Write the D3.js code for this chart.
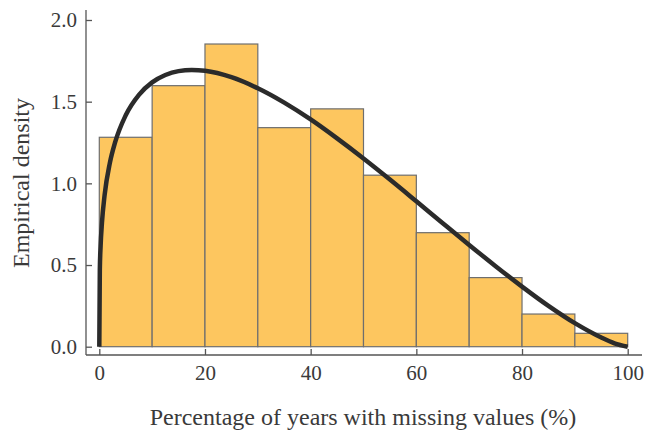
<!DOCTYPE html>
<html>
<head>
<meta charset="utf-8">
<script src="https://cdn.jsdelivr.net/npm/d3@7"></script>
<style>
  html, body { margin: 0; padding: 0; background: #ffffff; }
  svg { display: block; font-family: "Liberation Serif", "Times New Roman", serif; }
</style>
</head>
<body>
<svg id="chart" width="645" height="431"></svg>
<script>
// Histogram bins (percentage of years with missing values) and their densities
const binStarts = [0, 10, 20, 30, 40, 50, 60, 70, 80, 90];
const binWidth = 10;
const densities = [1.282, 1.598, 1.853, 1.341, 1.456, 1.050, 0.698, 0.423, 0.200, 0.082];

// Fitted density curve, sampled along the x axis
const curveX = [0, 0.1, 0.25, 0.5, 1, 2, 3, 5, 7.5, 10, 12.5, 15, 17.5, 20, 25, 30, 35, 40, 45,
                50, 55, 60, 65, 70, 75, 80, 85, 90, 95, 97.5, 100];
const curveY = [0, 0.470, 0.618, 0.758, 0.927, 1.125, 1.252, 1.417, 1.542, 1.618, 1.663, 1.687,
                1.694, 1.689, 1.650, 1.582, 1.494, 1.391, 1.275, 1.152, 1.023, 0.890, 0.756,
                0.623, 0.493, 0.368, 0.250, 0.144, 0.056, 0.021, 0];

// Axis ticks
const xTicks = [0, 20, 40, 60, 80, 100];
const yTicks = [0, 0.5, 1.0, 1.5, 2.0];

const xTitle = "Percentage of years with missing values (%)";
const yTitle = "Empirical density";

const svg = d3.select("#chart");

const x = d3.scaleLinear().domain([0, 100]).range([99.3, 627.7]);
const y = d3.scaleLinear().domain([0, 2]).range([346.7, 20]);

const axisLeftX = 86;
const axisBottomY = 355;
const axisColor = "#555555";
const textColor = "#3a3a3a";

// Bars
svg.append("g")
  .selectAll("rect")
  .data(binStarts)
  .join("rect")
    .attr("x", (d) => x(d))
    .attr("y", (d, i) => y(densities[i]))
    .attr("width", (d) => x(d + binWidth) - x(d))
    .attr("height", (d, i) => y(0) - y(densities[i]))
    .attr("fill", "#fdc65f")
    .attr("stroke", "#6e6e6e")
    .attr("stroke-width", 1.2);

// Density curve
const line = d3.line()
  .x((d) => x(d))
  .y((d, i) => y(curveY[i]))
  .curve(d3.curveMonotoneX);

svg.append("path")
  .datum(curveX)
  .attr("d", line)
  .attr("fill", "none")
  .attr("stroke", "#2b2b2b")
  .attr("stroke-width", 4.5)
  .attr("stroke-linecap", "butt");

// Bottom axis (ticks point inward)
const gx = svg.append("g")
  .attr("transform", `translate(0,${axisBottomY})`)
  .call(d3.axisBottom(x).tickValues(xTicks).tickFormat(d3.format("d"))
    .tickSize(-6).tickPadding(10));
gx.select(".domain").remove();
gx.append("line")
  .attr("x1", axisLeftX).attr("x2", 642)
  .attr("y1", 0).attr("y2", 0);
gx.selectAll("line").attr("stroke", axisColor).attr("stroke-width", 1.3);
gx.selectAll("text")
  .attr("fill", textColor)
  .style("font-family", "'Liberation Serif', serif")
  .style("font-size", "21px");

// Left axis (ticks point inward)
const gy = svg.append("g")
  .attr("transform", `translate(${axisLeftX},0)`)
  .call(d3.axisLeft(y).tickValues(yTicks).tickFormat(d3.format(".1f"))
    .tickSize(-6).tickPadding(9));
gy.select(".domain").remove();
gy.append("line")
  .attr("x1", 0).attr("x2", 0)
  .attr("y1", 10).attr("y2", axisBottomY);
gy.selectAll("line").attr("stroke", axisColor).attr("stroke-width", 1.3);
gy.selectAll("text")
  .attr("fill", textColor)
  .style("font-family", "'Liberation Serif', serif")
  .style("font-size", "21px");

// Axis titles
svg.append("text")
  .attr("x", 363)
  .attr("y", 425)
  .attr("text-anchor", "middle")
  .attr("fill", textColor)
  .style("font-size", "24px")
  .text(xTitle);

svg.append("text")
  .attr("transform", "translate(29,183) rotate(-90)")
  .attr("text-anchor", "middle")
  .attr("fill", textColor)
  .style("font-size", "24px")
  .text(yTitle);
</script>
</body>
</html>
